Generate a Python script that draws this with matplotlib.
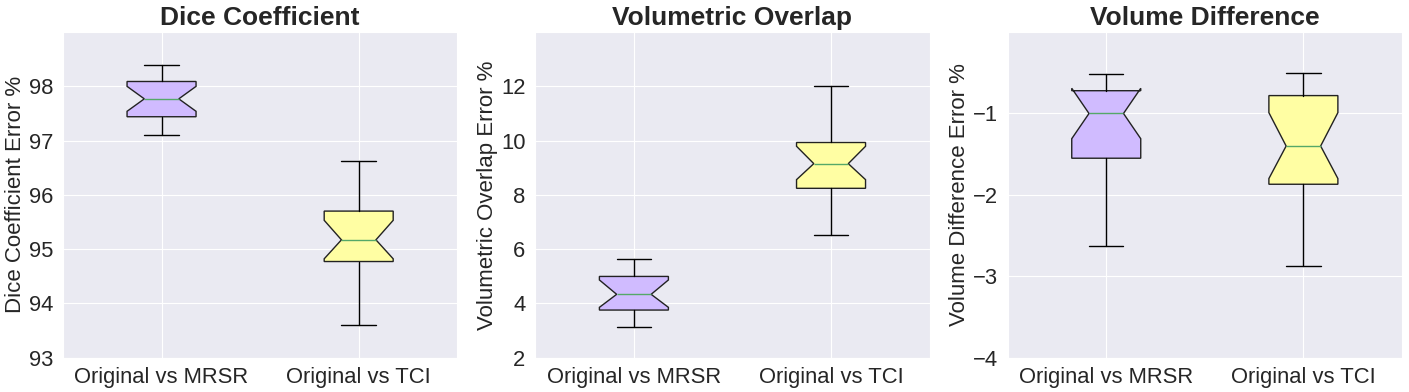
import matplotlib
matplotlib.use('Agg')
import matplotlib.pyplot as plt
import seaborn as sns

# Box statistics
labels = ['Original vs MRSR', 'Original vs TCI']

dice_med  = [97.77, 95.17]
dice_q1   = [97.44, 94.77]
dice_q3   = [98.09, 95.70]
dice_lo   = [97.11, 93.60]
dice_hi   = [98.40, 96.63]
dice_cilo = [97.54, 94.82]
dice_cihi = [98.00, 95.53]

vo_med  = [4.33, 9.15]
vo_q1   = [3.75, 8.24]
vo_q3   = [4.99, 9.93]
vo_lo   = [3.11, 6.52]
vo_hi   = [5.63, 12.00]
vo_cilo = [3.85, 8.56]
vo_cihi = [4.86, 9.79]

vd_med  = [-1.00, -1.40]
vd_q1   = [-1.55, -1.87]
vd_q3   = [-0.72, -0.78]
vd_lo   = [-2.63, -2.88]
vd_hi   = [-0.51, -0.50]
vd_cilo = [-1.31, -1.80]
vd_cihi = [-0.69, -0.99]

titles = ['Dice Coefficient', 'Volumetric Overlap', 'Volume Difference']
ylabels = ['Dice Coefficient Error %', 'Volumetric Overlap Error %',
           'Volume Difference Error %']
yticks = [[93, 94, 95, 96, 97, 98], [2, 4, 6, 8, 10, 12], [-4, -3, -2, -1]]
ylims = [(93, 99), (2, 14), (-4, 0)]

box_colors = ['#d0bbff', '#fffea3']

sns.set_style('darkgrid')
plt.rcParams['font.family'] = ['Liberation Sans', 'DejaVu Sans']
plt.rcParams['text.color'] = '#262626'
plt.rcParams['axes.labelcolor'] = '#262626'
plt.rcParams['xtick.color'] = '#262626'
plt.rcParams['ytick.color'] = '#262626'


def make_stats(med, q1, q3, lo, hi, cilo, cihi):
    stats = []
    for i in range(len(labels)):
        stats.append({'label': labels[i], 'med': med[i], 'q1': q1[i], 'q3': q3[i],
                      'whislo': lo[i], 'whishi': hi[i],
                      'cilo': cilo[i], 'cihi': cihi[i], 'fliers': []})
    return stats


all_stats = [
    make_stats(dice_med, dice_q1, dice_q3, dice_lo, dice_hi, dice_cilo, dice_cihi),
    make_stats(vo_med, vo_q1, vo_q3, vo_lo, vo_hi, vo_cilo, vo_cihi),
    make_stats(vd_med, vd_q1, vd_q3, vd_lo, vd_hi, vd_cilo, vd_cihi),
]

fig, axes = plt.subplots(1, 3, figsize=(14.09, 3.92), dpi=100)
fig.subplots_adjust(left=0.0447, right=0.995, bottom=0.088, top=0.918, wspace=0.198)

for k, ax in enumerate(axes):
    bp = ax.bxp(all_stats[k], shownotches=True, patch_artist=True, widths=0.35,
                showfliers=False,
                boxprops=dict(edgecolor='#222222', linewidth=1.0),
                whiskerprops=dict(color='black', linewidth=1.0),
                capprops=dict(color='black', linewidth=1.0),
                medianprops=dict(color='#55a868', linewidth=1.0))
    for patch, c in zip(bp['boxes'], box_colors):
        patch.set_facecolor(c)
    ax.set_title(titles[k], fontsize=19, fontweight='bold', pad=5)
    ax.set_ylabel(ylabels[k], fontsize=16, labelpad=2)
    ax.set_yticks(yticks[k])
    ax.set_ylim(ylims[k])
    ax.set_xlim(0.5, 2.5)
    ax.tick_params(axis='both', labelsize=15.8)

fig.savefig('out.png', dpi=100)
